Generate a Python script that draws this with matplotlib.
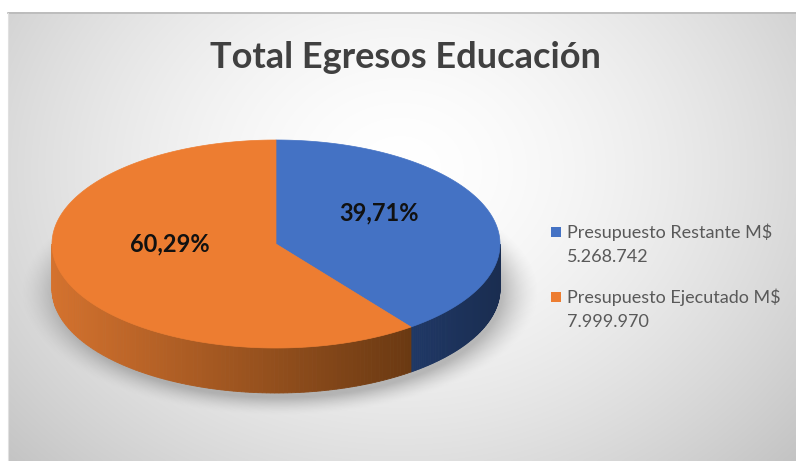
import numpy as np
import matplotlib
matplotlib.use("Agg")
import matplotlib.pyplot as plt
from matplotlib.patches import Polygon, Rectangle
from matplotlib.colors import to_rgb

# ---- data ----
title = "Total Egresos Educación"
categories = ["Presupuesto Restante M$\n5.268.742", "Presupuesto Ejecutado M$\n7.999.970"]
values = [5268742, 7999970]
pct_labels = ["39,71%", "60,29%"]
top_colors = ["#4472C4", "#ED7D31"]

W, H = 796, 461
fig = plt.figure(figsize=(W / 100, H / 100), dpi=100)
ax = fig.add_axes([0, 0, 1, 1])
ax.set_xlim(0, W)
ax.set_ylim(H, 0)
ax.axis("off")
fig.patch.set_facecolor("white")

# ---- background radial gradient ----
x0, y0, x1, y1 = 8, 13, W, H
gx, gy = np.meshgrid(np.linspace(x0, x1, 400), np.linspace(y0, y1, 230))
r = np.sqrt(((gx - 400) / 470) ** 2 + ((gy - 170) / 380) ** 2)
v = 1.0 - 0.19 * np.clip(r, 0, 1.3) ** 1.6
bg = np.dstack([v, v, v])
ax.imshow(bg, extent=(x0, x1, y1, y0), zorder=0, interpolation="bilinear", aspect="auto")
ax.plot([x0, x1], [y0, y0], color="#b8b8b8", lw=1.2, zorder=1)
ax.plot([x0, x0], [y0, y1], color="#e0e0e0", lw=0.8, zorder=1)

# ---- pie geometry ----
cx, cy, a, b, depth = 276, 244, 224, 104, 45

def pt(phi):
    p = np.radians(phi)
    return cx + a * np.sin(p), cy - b * np.cos(p)

# shadow
sx, sy = np.meshgrid(np.linspace(0, 560, 280), np.linspace(150, 430, 140))
d = np.sqrt(((sx - cx - 4) / (a + 8)) ** 2 + ((sy - cy - depth - 4) / (b + 6)) ** 2)
alpha = np.clip((1.12 - d) / 0.16, 0, 1) ** 1.5 * 0.45
sh = np.zeros((140, 280, 4))
sh[..., :3] = 0.45
sh[..., 3] = alpha
ax.imshow(sh, extent=(0, 560, 430, 150), zorder=1, interpolation="bilinear", aspect="auto")

total = sum(values)
angles = [0]
for val in values:
    angles.append(angles[-1] + 360 * val / total)

# side walls (front half: 90..270 deg clockwise from top)
side_l = [np.array(to_rgb("#1f3866")), np.array(to_rgb("#d4722e"))]
side_r = [np.array(to_rgb("#1a2d50")), np.array(to_rgb("#6a3912"))]
for i in range(len(values)):
    s, e = max(angles[i], 90), min(angles[i + 1], 270)
    if e <= s:
        continue
    phis = np.linspace(s, e, 120)
    if i == 1:
        xs, xe = pt(270)[0], pt(angles[1])[0]
    else:
        xs, xe = pt(angles[1])[0], pt(90)[0]
    for p1, p2 in zip(phis[:-1], phis[1:]):
        xa, ya = pt(p1)
        xb, yb = pt(p2)
        xm = (xa + xb) / 2
        f = np.clip((xm - xs) / (xe - xs), 0, 1)
        c = side_l[i] * (1 - f) + side_r[i] * f
        ax.add_patch(Polygon([(xa, ya), (xb, yb), (xb, yb + depth), (xa, ya + depth)],
                             closed=True, facecolor=c, edgecolor=c, lw=0.6, zorder=2))

# top faces
for i in range(len(values)):
    phis = np.linspace(angles[i], angles[i + 1], 200)
    pts = [(cx, cy)] + [pt(p) for p in phis]
    ax.add_patch(Polygon(pts, closed=True, facecolor=top_colors[i], edgecolor=top_colors[i],
                         lw=0.5, zorder=3))

# percentage labels
label_pos = [(379, 213), (170, 244)]
for (lx, ly), txt in zip(label_pos, pct_labels):
    ax.text(lx, ly, txt, fontsize=17, fontweight="bold", color="#111111", family="Lato",
            ha="center", va="center", zorder=5)

# title
ax.text(405, 57, title, fontsize=26, fontweight="bold", color="#404040", family="Lato",
        ha="center", va="center", zorder=5)

# legend
leg_y = [232, 297]
for i, (yy, lab) in enumerate(zip(leg_y, categories)):
    ax.add_patch(Rectangle((551, yy - 5), 10, 10, facecolor=top_colors[i], edgecolor="none", zorder=5))
    l1, l2 = lab.split("\n")
    ax.text(567, yy, l1, fontsize=13, color="#595959", family="Lato", ha="left", va="center", zorder=5)
    ax.text(567, yy + 25, l2, fontsize=13, color="#595959", family="Lato", ha="left", va="center", zorder=5)

fig.savefig("out.png", dpi=100)
